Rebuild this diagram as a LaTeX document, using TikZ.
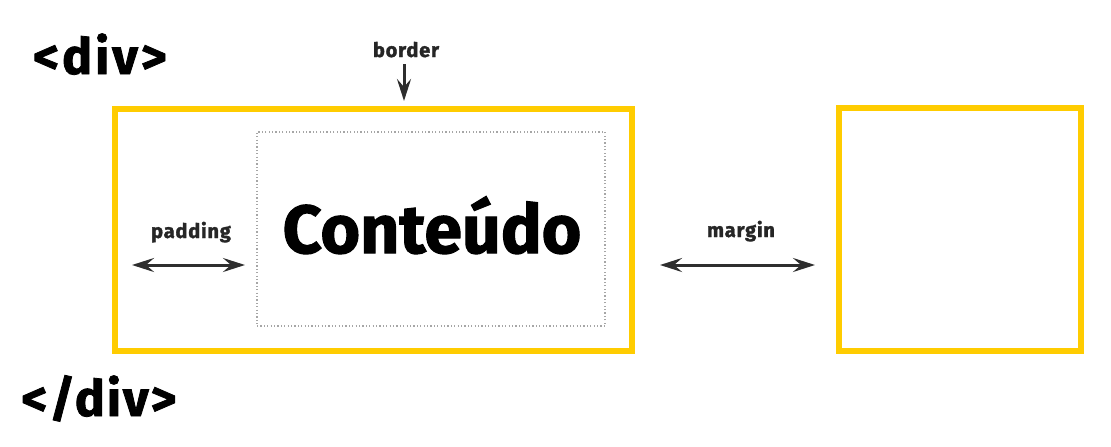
\documentclass[tikz,border=0pt]{standalone}
\usepackage{fontspec}
\setmainfont{Fira Sans}[BoldFeatures={FakeBold=1.6}]
\usetikzlibrary{arrows.meta}
\definecolor{boxyellow}{HTML}{FFCC00}
\definecolor{arrowgray}{HTML}{2E2E2E}
\begin{document}
\begin{tikzpicture}[x=1pt,y=-1pt]
    \tikzset{every node/.style={inner sep=0pt,outer sep=0pt},
        ybox/.style={draw=boxyellow,line width=6pt},
        dotbox/.style={draw=gray!70,line width=1.2pt,dash pattern=on 1.2pt off 2.2pt},
        tag/.style={anchor=base,font=\fontsize{50}{50}\selectfont\bfseries,text=black},
        lbl/.style={anchor=base,font=\fontsize{20}{20}\selectfont\bfseries,text=black!85},
        dimarrow/.style={draw=arrowgray,line width=3pt,{Stealth[length=22pt,width=14pt,inset=8pt]}-{Stealth[length=22pt,width=14pt,inset=8pt]}}}
    \useasboundingbox (0,0) rectangle (1111,447);
    \node[ybox,minimum width=517pt,minimum height=242pt] (outer) at (373.5,230) {};
    \node[ybox,minimum width=242pt,minimum height=243pt] (nextbox) at (960,229.5) {};
    \node[dotbox,minimum width=348pt,minimum height=194pt] (content) at (431,229) {};
    \node[anchor=base,font=\fontsize{68}{68}\selectfont\bfseries] (conteudo) at (432,253) {Conteúdo};
    \node[tag] (open) at (100,74) {\addfontfeature{LetterSpace=6}<div>};
    \node[tag] (close) at (99,416) {\addfontfeature{LetterSpace=4}</div>};
    \node[lbl] (border) at (406,57) {\addfontfeature{LetterSpace=4}border};
    \node[lbl] (padding) at (191,238) {\addfontfeature{LetterSpace=4}padding};
    \node[lbl] (margin) at (741,237) {\addfontfeature{LetterSpace=4}margin};
    \coordinate (bordertop) at (404,64);
    \coordinate (borderend) at (404,101);
    \coordinate (padleft) at (132,265);
    \coordinate (padright) at (245,265);
    \coordinate (marleft) at (660,265);
    \coordinate (marright) at (815,265);
    \draw [draw=arrowgray,line width=3pt,-{Stealth[length=22pt,width=14pt,inset=8pt]}] (bordertop) -- (borderend);
    \draw [dimarrow] (padleft) -- (padright);
    \draw [dimarrow] (marleft) -- (marright);
\end{tikzpicture}
\end{document}
